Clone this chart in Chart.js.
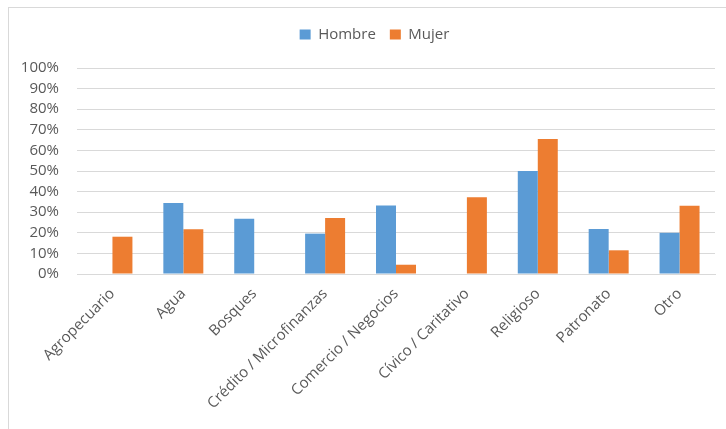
<!DOCTYPE html>
<html>
<head>
<meta charset="utf-8">
<script src="https://cdn.jsdelivr.net/npm/chart.js@4.4.1/dist/chart.umd.min.js"></script>
<style>
    html, body { margin: 0; padding: 0; background: #fff; overflow: hidden; }
    #wrap { position: relative; width: 726px; height: 429px; }
    #frame {
        position: absolute; left: 8px; top: 7px; width: 800px; height: 500px;
        border-left: 1px solid #D9D9D9; border-top: 1px solid #D9D9D9;
    }
    canvas { position: absolute; left: 0; top: 0; }
</style>
</head>
<body>
<div id="wrap">
    <div id="frame"></div>
    <canvas id="chart" width="726" height="429"></canvas>
</div>
<script>
// Chart data
const categories = ['Agropecuario', 'Agua', 'Bosques', 'Crédito / Microfinanzas', 'Comercio / Negocios',
    'Cívico / Caritativo', 'Religioso', 'Patronato', 'Otro'];
const hombre = [0, 34.5, 26.8, 19.6, 33.3, 0, 50, 21.9, 20];
const mujer = [18.1, 21.7, 0, 27.2, 4.5, 37.3, 65.5, 11.5, 33.1];
const yTicks = [0, 10, 20, 30, 40, 50, 60, 70, 80, 90, 100];

const FONT = '"Open Sans", Lato, sans-serif';

// Fix legend height so the plot starts at the right place,
// and nudge it right so it is centred like the original
const legendSpace = {
    id: 'legendSpace',
    beforeInit(chart) {
        const fit = chart.legend.fit;
        chart.legend.fit = function() {
            fit.bind(chart.legend)();
            this.height = 55;
        };
    },
    afterLayout(chart) {
        chart.legend.left += 12;
        chart.legend.right += 12;
    }
};

const ctx = document.getElementById('chart').getContext('2d');
new Chart(ctx, {
    type: 'bar',
    data: {
        labels: categories,
        datasets: [
            {
                label: 'Hombre',
                data: hombre,
                backgroundColor: '#5B9BD5',
                borderWidth: 0
            },
            {
                label: 'Mujer',
                data: mujer,
                backgroundColor: '#ED7D31',
                borderWidth: 0
            }
        ]
    },
    options: {
        responsive: false,
        animation: false,
        devicePixelRatio: 1,
        layout: {
            padding: { left: 10, right: 11, top: 13, bottom: 0 }
        },
        datasets: {
            bar: { barPercentage: 1, categoryPercentage: 0.564 }
        },
        plugins: {
            tooltip: { enabled: false },
            legend: {
                position: 'top',
                labels: {
                    boxWidth: 11,
                    boxHeight: 10,
                    padding: 14,
                    color: '#595959',
                    font: { family: FONT, size: 15 }
                }
            }
        },
        scales: {
            x: {
                grid: { display: false, drawTicks: false },
                border: { display: true, color: '#D9D9D9', width: 1 },
                ticks: {
                    color: '#595959',
                    font: { family: FONT, size: 15 },
                    minRotation: 45,
                    maxRotation: 45,
                    padding: 11,
                    autoSkip: false
                },
                afterFit(scale) { scale.height = 155; }
            },
            y: {
                min: 0,
                max: 100,
                afterBuildTicks(scale) {
                    scale.ticks = yTicks.map(v => ({ value: v }));
                },
                grid: { color: '#D9D9D9', lineWidth: 1, drawTicks: false },
                border: { display: false },
                ticks: {
                    color: '#595959',
                    font: { family: FONT, size: 15 },
                    padding: 18,
                    autoSkip: false,
                    callback: v => v + '%'
                },
                afterFit(scale) { scale.width = 67; }
            }
        }
    },
    plugins: [legendSpace]
});
</script>
</body>
</html>
